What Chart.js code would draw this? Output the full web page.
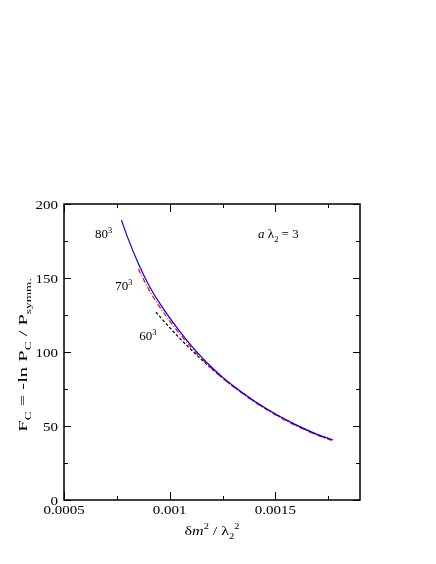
<!DOCTYPE html>
<html>
<head>
<meta charset="utf-8">
<script src="https://cdn.jsdelivr.net/npm/chart.js@4/dist/chart.umd.min.js"></script>
<style>
  body { margin: 0; background: #fff; }
  canvas { display: block; }
</style>
</head>
<body>
<canvas id="free_energy_chart" width="436" height="564"></canvas>
<script>
// lattice 80^3 (blue, solid)
const x80 = [0.000772, 0.0008, 0.00085, 0.0009, 0.00095, 0.001, 0.00105, 0.0011, 0.00115, 0.0012, 0.00125, 0.0013, 0.0014, 0.0015, 0.0016, 0.0017, 0.00177];
const f80 = [189, 177.8, 160.3, 145.5, 133.5, 123, 113.5, 104.7, 96.7, 89.5, 83, 77.2, 66.9, 58.1, 50.6, 44.2, 40.7];

// lattice 70^3 (red, dash-dot)
const x70 = [0.000852, 0.0009, 0.00095, 0.001, 0.00105, 0.0011, 0.00115, 0.0012, 0.00125, 0.0013, 0.0014, 0.0015, 0.0016, 0.0017, 0.00177];
const f70 = [156, 142.5, 131, 121, 111.8, 103.3, 95.6, 88.6, 82.3, 76.6, 66.3, 57.5, 50, 43.6, 40.1];

// lattice 60^3 (black, dashed)
const x60 = [0.000935, 0.00095, 0.001, 0.00105, 0.0011, 0.00115, 0.0012, 0.00125, 0.0013, 0.0014, 0.0015, 0.0016, 0.0017, 0.00177];
const f60 = [127, 124.5, 116.5, 108.9, 101.7, 94.9, 88.5, 82.5, 76.9, 66.7, 58, 50.5, 44.1, 40.6];

const xTicks = [0.0005, 0.001, 0.0015];
const xTickLabels = ['0.0005', '0.001', '0.0015'];
const xMinorTicks = [0.00075, 0.00125, 0.00175];
const yTicks = [0, 50, 100, 150, 200];
const yTickLabels = ['0', '50', '100', '150', '200'];
const yMinorTicks = [25, 75, 125, 175];

const FONT = '"Liberation Serif", "Times New Roman", serif';

function to_points(xs, ys) {
    return xs.map((x, i) => ({ x: x, y: ys[i] }));
}

// draws a list of [text, kind] pieces, kind = n | i | sub | sup
function draw_rich(ctx, parts, size, align) {
    let width = 0;
    const fonts = parts.map(p => {
        const small = (p[1] == 'sub' || p[1] == 'sup');
        const f = (p[1] == 'i' ? 'italic ' : '') + (small ? size * 0.65 : size) + 'px ' + FONT;
        ctx.font = f;
        width += ctx.measureText(p[0]).width;
        return f;
    });
    let x = align == 'center' ? -width / 2 : (align == 'right' ? -width : 0);
    ctx.textAlign = 'left';
    ctx.textBaseline = 'alphabetic';
    parts.forEach((p, i) => {
        ctx.font = fonts[i];
        let dy = 0;
        if (p[1] == 'sub') dy = size * 0.32;
        if (p[1] == 'sup') dy = -size * 0.45;
        ctx.fillText(p[0], x, dy);
        x += ctx.measureText(p[0]).width;
    });
}

const frame_plugin = {
    id: 'frame',
    afterDraw(chart) {
        const ctx = chart.ctx;
        const area = chart.chartArea;
        const sx = chart.scales.x;
        const sy = chart.scales.y;

        ctx.save();
        ctx.strokeStyle = '#000';
        ctx.lineWidth = 1.5;
        ctx.strokeRect(area.left, area.top, area.right - area.left, area.bottom - area.top);

        ctx.lineWidth = 1;
        const tick = (x1, y1, x2, y2) => {
            ctx.beginPath();
            ctx.moveTo(x1, y1);
            ctx.lineTo(x2, y2);
            ctx.stroke();
        };
        xTicks.concat(xMinorTicks).forEach(v => {
            const len = xTicks.includes(v) ? 8 : 4;
            const px = Math.round(sx.getPixelForValue(v)) + 0.5;
            tick(px, area.bottom, px, area.bottom - len);
            tick(px, area.top, px, area.top + len);
        });
        yTicks.concat(yMinorTicks).forEach(v => {
            const len = yTicks.includes(v) ? 7 : 4;
            const py = Math.round(sy.getPixelForValue(v)) + 0.5;
            tick(area.left, py, area.left + len, py);
            tick(area.right, py, area.right - len, py);
        });

        ctx.fillStyle = '#000';
        // tick labels
        xTicks.forEach((v, i) => {
            ctx.save();
            ctx.translate(sx.getPixelForValue(v), area.bottom + 14);
            ctx.scale(1, 0.83);
            draw_rich(ctx, [[xTickLabels[i], 'n']], 15, 'center');
            ctx.restore();
        });
        yTicks.forEach((v, i) => {
            ctx.save();
            ctx.translate(area.left - 6, sy.getPixelForValue(v) + 4.5);
            ctx.scale(1, 0.83);
            draw_rich(ctx, [[yTickLabels[i], 'n']], 15, 'right');
            ctx.restore();
        });

        // axis titles
        ctx.save();
        ctx.translate((area.left + area.right) / 2, area.bottom + 35);
        ctx.scale(1, 0.83);
        draw_rich(ctx, [['\u03b4', 'n'], ['m', 'i'], ['2', 'sup'], [' / \u03bb', 'n'], ['2', 'sub'], ['2', 'sup']], 16, 'center');
        ctx.restore();

        ctx.save();
        ctx.translate(27, (area.top + area.bottom) / 2 + 3);
        ctx.rotate(-Math.PI / 2);
        ctx.scale(1, 0.64);
        draw_rich(ctx, [['F', 'n'], ['C', 'sub'], [' = -ln P', 'n'], ['C', 'sub'], [' / P', 'n'], ['symm.', 'sub']], 20.5, 'center');
        ctx.restore();

        // curve labels
        const notes = [
            [0.000647, 177, [['80', 'n'], ['3', 'sup']]],
            [0.000742, 141.9, [['70', 'n'], ['3', 'sup']]],
            [0.000856, 108.1, [['60', 'n'], ['3', 'sup']]],
            [0.001418, 177, [['a', 'i'], [' \u03bb', 'n'], ['2', 'sub'], [' = 3', 'n']]]
        ];
        notes.forEach(n => {
            ctx.save();
            ctx.translate(sx.getPixelForValue(n[0]), sy.getPixelForValue(n[1]));
            ctx.scale(1, 0.9);
            draw_rich(ctx, n[2], 13, 'left');
            ctx.restore();
        });
        ctx.restore();
    }
};

function desenhar_grafico() {
    const canvas_chart = document.getElementById('free_energy_chart');

    new Chart(canvas_chart, {
        type: 'scatter',
        data: {
            datasets: [{
                label: '80^3',
                data: to_points(x80, f80),
                borderColor: '#0000ff',
                borderWidth: 1.2
            }, {
                label: '70^3',
                data: to_points(x70, f70),
                borderColor: '#ff0000',
                borderWidth: 1.2,
                borderDash: [5, 2, 1, 2]
            }, {
                label: '60^3',
                data: to_points(x60, f60),
                borderColor: '#000000',
                borderWidth: 1.2,
                borderDash: [3, 2]
            }].map(d => Object.assign(d, {
                showLine: true,
                pointRadius: 0,
                fill: false,
                cubicInterpolationMode: 'monotone'
            }))
        },
        options: {
            responsive: false,
            animation: false,
            layout: { padding: { left: 64, right: 76, top: 204, bottom: 64 } },
            plugins: { legend: { display: false }, tooltip: { enabled: false } },
            scales: {
                x: { type: 'linear', min: 0.0005, max: 0.0019, display: false },
                y: { type: 'linear', min: 0, max: 200, display: false }
            }
        },
        plugins: [frame_plugin]
    });
}

desenhar_grafico();
</script>
</body>
</html>
